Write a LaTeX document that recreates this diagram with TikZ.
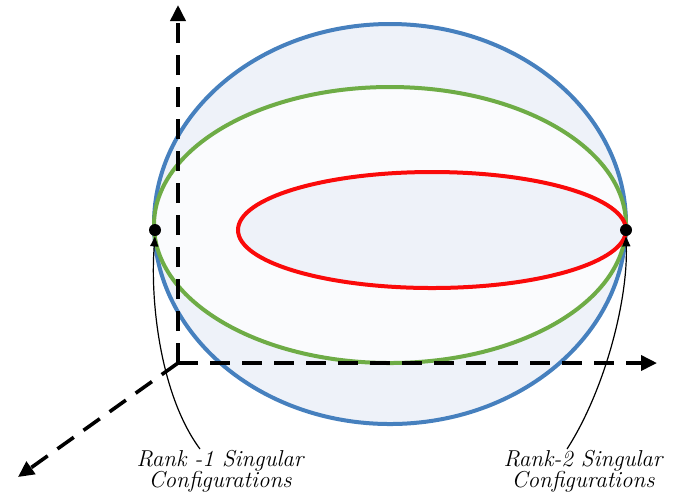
\documentclass[tikz,border=0pt]{standalone}
\usepackage{xcolor}
\usetikzlibrary{arrows.meta,positioning}
\definecolor{outerblue}{RGB}{70, 128, 190}
\definecolor{midgreen}{RGB}{110, 172, 70}
\definecolor{innerred}{RGB}{250, 10, 10}
\definecolor{paleblue}{RGB}{238, 242, 249}

\begin{document}
\begin{tikzpicture}[x=0.5pt, y=-0.5pt,
    axis/.style={line width=1.8pt, dash pattern=on 10pt off 6pt, -{Triangle[length=8pt, width=7.5pt]}},
    label/.style={font=\fontsize{11.5}{10.5}\selectfont\itshape, align=center},
    pointer/.style={line width=0.6pt, -{Triangle[length=5pt, width=4pt]}},
    singular/.style={circle, fill=black, inner sep=0pt, minimum size=6pt}]
    \useasboundingbox (0, 0) rectangle (684, 495);

    % surfaces
    \draw[fill=paleblue, draw=outerblue, line width=2pt] (390, 224) ellipse [x radius=236, y radius=200];
    \draw[fill=white!70!paleblue, draw=midgreen, line width=2pt] (390, 225) ellipse [x radius=236, y radius=138];
    \draw[fill=paleblue, draw=innerred, line width=2pt] (432, 230) ellipse [x radius=194, y radius=58];

    % axes
    \coordinate (origin) at (178, 363);
    \coordinate (zend) at (178, 5);
    \coordinate (xend) at (657, 363);
    \coordinate (yend) at (18, 477);
    \draw[axis] (origin) -- (zend);
    \draw[axis] (origin) -- (xend);
    \draw[axis] (origin) -- (yend);

    % singular points
    \node[singular] (dotL) at (155, 230) {};
    \node[singular] (dotR) at (626, 230) {};

    \node[label] (rank1) at (220, 471) {Rank -1 Singular\\Configurations};
    \node[label] (rank2) at (583, 471) {Rank-2 Singular\\Configurations};

    \draw[pointer] ([xshift=-10pt, yshift=-3pt]rank1.north) .. controls (160, 395) and (150, 300) .. (dotL.south);
    \draw[pointer] ([xshift=-8pt, yshift=-3pt]rank2.north) .. controls (605, 390) and (628, 300) .. (dotR.south);
\end{tikzpicture}
\end{document}
